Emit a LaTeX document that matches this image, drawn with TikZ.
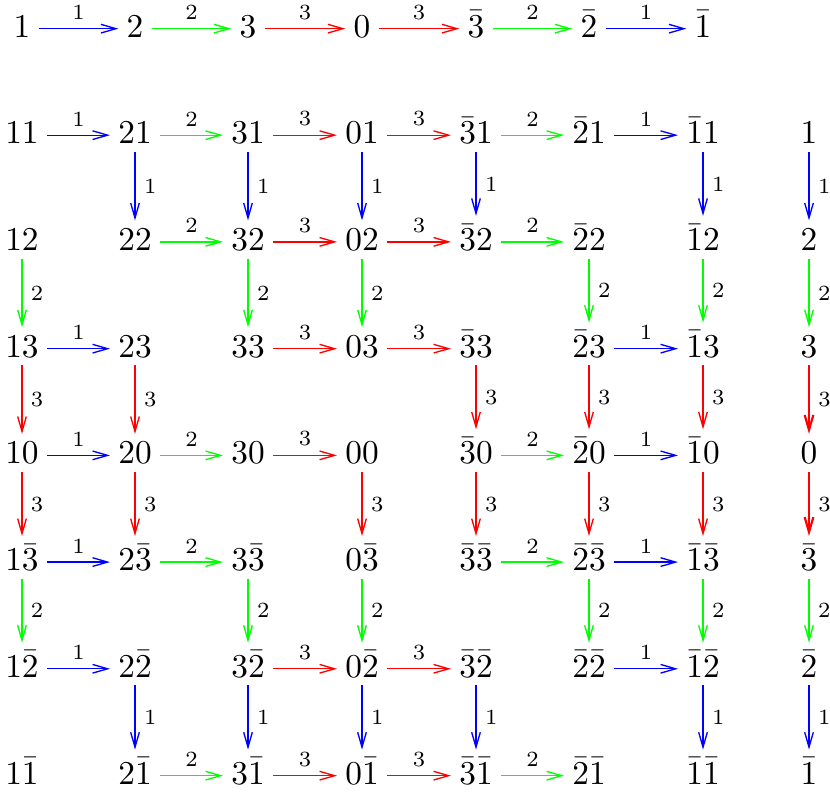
\RequirePackage{fix-cm}
\documentclass[tikz,border=0pt]{standalone}
\usetikzlibrary{arrows.meta}
\tikzset{
  x=0.3pt, y=-0.3pt,
  obj/.style={anchor=base, inner sep=2.5pt, outer sep=0pt},
  lbl/.style={font=\fontsize{6.5}{7.5}\selectfont, inner sep=2.5pt, text=black},
  arr/.style={-{Straight Barb[length=4.5pt,width=2.6pt]}},
  k1/.style={arr,blue}, k2/.style={arr,green}, k3/.style={arr,red},
  k4/.style={arr,red}, k5/.style={arr,green}, k6/.style={arr,blue},
  heavy/.style={line width=0.65pt}
}
\newcommand\labk[1]{\ifcase#1\or1\or2\or3\or3\or2\or1\fi}
\begin{document}
\begin{tikzpicture}
\useasboundingbox (0,0) rectangle (830,796);
% nodes
\foreach \cc/\xx/\ff in {1/22/1,2/135/2,3/248/3,4/362/0,5/476/{\bar{3}},6/589/{\bar{2}},7/703/{\bar{1}}}{
  \node[obj] (t\cc) at (\xx,37) {$\ff$};
  \foreach \rr/\yy/\ss in {1/143.5/1,2/250.2/2,3/357/3,4/463.7/0,5/570.4/{\bar{3}},6/677.1/{\bar{2}},7/784/{\bar{1}}}{
    \node[obj] (n\rr-\cc) at (\xx,\yy) {$\ff\ss$};
  }
}
\foreach \rr/\yy/\ss in {1/143.5/1,2/250.2/2,3/357/3,4/463.7/0,5/570.4/{\bar{3}},6/677.1/{\bar{2}},7/784/{\bar{1}}}{
  \node[obj] (n\rr-8) at (809,\yy) {$\ss$};
}
% top row arrows
\foreach \cc in {1,...,6}{
  \pgfmathtruncatemacro\cn{\cc+1}
  \draw[k\cc] ([yshift=2.5pt]t\cc.base east) -- node[above,lbl]{\labk{\cc}} ([yshift=2.5pt]t\cn.base west);
}
% horizontal grid arrows
\foreach \rr/\cs in {1/{1,2,3,4,5,6},2/{2,3,4,5},3/{1,3,4,6},4/{1,2,3,5,6},5/{1,2,5,6},6/{1,3,4,6},7/{2,3,4,5}}{
  \foreach \cc in \cs {
    \pgfmathtruncatemacro\cn{\cc+1}
    \draw[k\cc] ([yshift=2.5pt]n\rr-\cc.base east) -- node[above,lbl]{\labk{\cc}} ([yshift=2.5pt]n\rr-\cn.base west);
  }
}
% vertical grid arrows
\foreach \rr/\cs in {1/{2,3,4,5,7,8},2/{1,3,4,6,7,8},3/{1,2,5,6,7},4/{1,2,4,5,6,7},5/{1,3,4,6,7,8},6/{2,3,4,5,7,8}}{
  \pgfmathtruncatemacro\rn{\rr+1}
  \foreach \cc in \cs {
    \draw[k\rr] (n\rr-\cc.south) -- node[right,lbl]{\labk{\rr}} (n\rn-\cc.north);
  }
}
\draw[k3,heavy] (n3-8.south) -- node[right,lbl]{3} (n4-8.north);
\draw[k4,heavy] (n4-8.south) -- node[right,lbl]{3} (n5-8.north);
\end{tikzpicture}
\end{document}
